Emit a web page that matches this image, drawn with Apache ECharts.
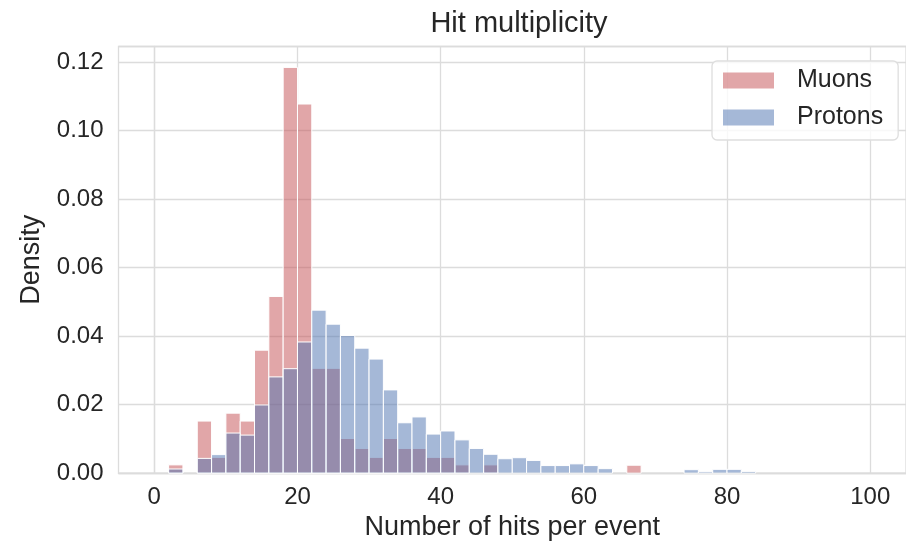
<!DOCTYPE html>
<html>
<head>
<meta charset="utf-8">
<script src="https://cdn.jsdelivr.net/npm/echarts@6/dist/echarts.min.js"></script>
<style>html,body{margin:0;padding:0;background:#fff}#c{width:906px;height:546px}</style>
</head>
<body>
<div id="c"></div>
<script>
const binEdges = [0,2,4,6,8,10,12,14,16,18,20,22,24,26,28,30,32,34,36,38,40,42,44,46,48,50,52,54,56,58,60,62,64,66,68,70,72,74,76,78,80,82,84,86,88,90,92,94,96,98,100];
const muons = [0,0.0024,0,0.0152,0.0046,0.0175,0.0152,0.0359,0.0516,0.1185,0.1078,0.0306,0.0306,0.0101,0.0072,0.0046,0.0101,0.0072,0.0072,0.0046,0.0046,0.0024,0,0.0024,0,0,0,0,0,0,0,0,0,0.0023,0,0,0,0,0,0,0,0,0,0,0,0,0,0,0,0];
const protons = [0,0.0012,0,0.0043,0.0054,0.0117,0.0111,0.0199,0.0281,0.0305,0.0383,0.0476,0.0435,0.0402,0.0365,0.0333,0.0243,0.0147,0.0164,0.0114,0.0123,0.0097,0.0072,0.0055,0.0042,0.0045,0.0037,0.0022,0.0022,0.0027,0.0022,0.0013,0,0,0,0,0,0.0010,0.0004,0.0011,0.0011,0.0005,0,0,0,0,0,0,0,0];
const xTicks = [0,20,40,60,80,100];
const seriesNames = ['Muons','Protons'];

const FONT = '"Liberation Sans", Arial, sans-serif';
const TXT = '#262626';
const GRID = '#dcdcdc';
const colors = ['rgba(196,78,82,0.5)','rgba(76,114,176,0.5)'];

function toData(vals){ return vals.map((v,i)=>[binEdges[i], binEdges[i+1], v]); }
function makeRender(color){
  return function(params, api){
    const y = api.value(2);
    if (!y) return null;
    const p0 = api.coord([api.value(0), y]);
    const p1 = api.coord([api.value(1), 0]);
    return {type:'rect', shape:{x:p0[0], y:p0[1], width:p1[0]-p0[0], height:p1[1]-p0[1]},
      style:{fill:color, stroke:'#ffffff', lineWidth:1}};
  };
}

const chart = echarts.init(document.getElementById('c'), null, {renderer:'canvas'});
chart.setOption({
  animation:false,
  backgroundColor:'#fff',
  title:{text:'Hit multiplicity', left:514, textAlign:'center', top:4,
    textStyle:{fontFamily:FONT, fontSize:29, fontWeight:'normal', color:TXT}},
  legend:{orient:'vertical', left:712, top:61, padding:[7,15,10,11], itemGap:12,
    itemWidth:51, itemHeight:16, icon:'rect',
    backgroundColor:'rgba(255,255,255,0.8)', borderColor:'#dedede', borderWidth:1.3, borderRadius:5,
    textStyle:{fontFamily:FONT, fontSize:25, color:TXT, padding:[0,0,0,18]},
    data:seriesNames},
  grid:{left:118.5, top:46.5, right:-4.3, bottom:71.5, show:true, borderColor:GRID, borderWidth:1.3},
  xAxis:{type:'value', min:-5, max:105,
    name:'Number of hits per event', nameLocation:'middle', nameGap:38,
    nameTextStyle:{fontFamily:FONT, fontSize:27, color:TXT},
    axisLine:{show:true, lineStyle:{color:GRID, width:1.3}},
    axisTick:{show:false, customValues:xTicks},
    axisLabel:{customValues:xTicks, fontFamily:FONT, fontSize:24, color:TXT, margin:12},
    splitLine:{show:true, lineStyle:{color:GRID, width:1.3}}},
  yAxis:{type:'value', min:0, max:0.1246, interval:0.02,
    name:'Density', nameLocation:'middle', nameGap:73,
    nameTextStyle:{fontFamily:FONT, fontSize:27, color:TXT},
    axisLine:{show:true, lineStyle:{color:GRID, width:1.3}},
    axisTick:{show:false},
    axisLabel:{fontFamily:FONT, fontSize:24, color:TXT, margin:15, showMaxLabel:false,
      formatter:v=>v.toFixed(2)},
    splitLine:{show:true, lineStyle:{color:GRID, width:1.3}}},
  series:[
    {name:seriesNames[0], type:'custom', renderItem:makeRender(colors[0]), data:toData(muons),
      itemStyle:{color:colors[0]}, encode:{x:[0,1], y:2}},
    {name:seriesNames[1], type:'custom', renderItem:makeRender(colors[1]), data:toData(protons),
      itemStyle:{color:colors[1]}, encode:{x:[0,1], y:2}}
  ]
});
</script>
</body>
</html>
